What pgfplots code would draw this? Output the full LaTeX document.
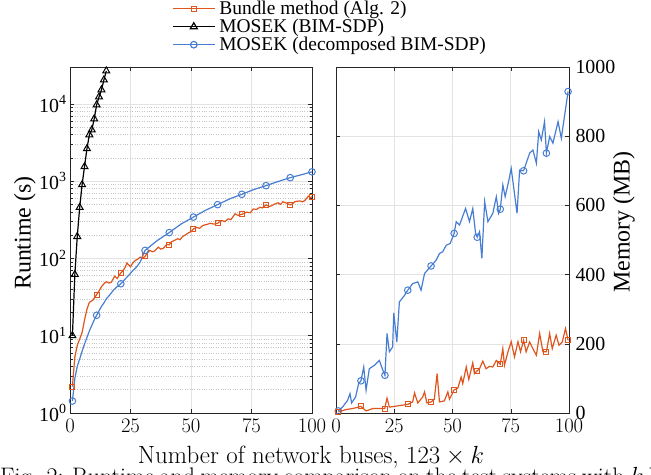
\documentclass[border=0pt]{standalone}
\usepackage{fontspec}
\usepackage{pgfplots}
\pgfplotsset{compat=1.18}
\newfontfamily\tnr{Liberation Serif}
\definecolor{orangeC}{RGB}{222,86,30}
\definecolor{blueC}{RGB}{72,126,210}
\definecolor{axC}{RGB}{38,38,38}
\pgfplotsset{
  common/.style={
    scale only axis, height=346bp,
    xmin=0, xmax=100, xtick={0,25,50,75,100},
    grid=major,
    major grid style={gray!22, line width=0.6bp},
    axis line style={axC, line width=0.6bp},
    tick style={axC, line width=0.5bp},
    major tick length=4bp, minor tick length=2.5bp,
    tick align=inside,
    xticklabel style={font=\fontsize{20}{22}\selectfont, text=black, yshift=-3bp},
    yticklabel style={font=\tnr\fontsize{20}{22}\selectfont, text=black,
      /pgf/number format/assume math mode=true, /pgf/number format/1000 sep={}},
  },
}
\pgfplotstableread{
x y
1 2.2
2 5.3
3 7.5
4.3 9.6
5 11
6 16
7 22
8 27
9.5 29
11 34
12 38
13 43
14 47
15 50
16 48
17 49
18.5 59
19.5 55
21 65
22 70
22.8 77
23.5 87
25 78
26 88
27 94
28 98
29 104
30 100
31 106
32 118
33 127
34 122
35 125
36.5 140
37.5 132
38.5 135
40 152
41 150
42 165
43 170
44.5 180
45.5 175
46.5 192
47.5 200
49 215
50 222
51 240
52.3 253
53.5 245
55 268
56.5 275
58 285
59.5 278
61 285
62.7 310
64 300
65.4 325
66.5 318
68.2 378
69.5 360
71 372
72 385
73 397
74.5 390
75.7 437
77 430
78.5 460
79.5 450
81 493
82.3 470
83.3 480
84.5 505
86 525
87 500
88 540
89.5 520
91 493
92 510
93 545
95 555
96 540
97 560
98.5 640
99.3 610
100 630
}\bundleRT
\pgfplotstableread{
x y
1 2.2
11 34
21 65
31 106
41 150
51 240
61 285
71 372
81 493
91 493
100 630
}\bundleRTm
\pgfplotstableread{
x y
1 1.43
2 2.8
3 4
4 5
5 6.3
6 7.8
7 9.5
8 11.5
9 13.6
10 16
11 18.4
12 21
13 24
14 26.5
15 30
16.5 34
18 39
19.3 42.7
21 47
23 55
24.8 63
26 70
27.5 77.5
29 90
31 127
36 170
41 216
46 280
51 343
56 420
61 497
66 590
71 676
76 780
81 875
86 990
91 1110
96 1220
100 1320
}\decRT
\pgfplotstableread{
x y
1 1.43
11 18.4
21 47
31 127
41 216
51 343
61 497
71 676
81 875
91 1110
100 1320
}\decRTm
\pgfplotstableread{
x y
1 10
2 62
3 192
4 457
5 900
6 1540
7 2630
8 3980
9 4600
10 6400
11 9700
12 12300
13 15200
14 20400
15 26700
}\bimRT
\pgfplotstableread{
x y
1 6
2.8 17
5 37
6 56
6.7 29
8.4 46
9.7 85
10.7 93
11.9 133
12.9 66
14.3 128
16.5 138
18.6 152
20.1 124
21 109
21.9 230
22.9 177
24.3 191
24.8 289
26.1 205
27.2 321
29.4 340
30.8 355
32.9 374
35.1 379
36.5 355
38 403
40.8 425
43 442
44.4 461
45.8 466
47.3 485
49 490
50.7 519
51.6 553
53 543
55.6 591
57.3 553
58.7 591
59.9 519
60.6 508
61.6 524
62.6 447
63.8 611
65.2 553
67.3 577
68.8 625
69.8 577
70.5 589
71.6 659
72.6 625
74.2 673
75.2 707
77.7 577
78.8 702
80.5 700
83.1 751
84.5 760
86 722
87 813
88.1 789
89.5 842
90.3 751
91.7 799
93.1 780
95.3 842
96.7 794
99.6 929
}\decMem
\pgfplotstableread{
x y
1 6
10.7 93
21 109
30.8 355
40.8 425
50.7 519
60.6 508
70.5 589
80.5 700
90.3 751
99.6 929
}\decMemm
\pgfplotstableread{
x y
1 3
4.3 10
7.2 13
10.7 19
12.9 6
15.8 13
20.9 13
21.9 43
22.9 17
30.8 25
32.9 32
33.7 58
35.1 29
37.2 46
38 61
39 29
40.8 32
42.2 40
43.4 114
44.4 32
46.5 35
48 61
48.7 40
50.7 67
52.3 72
53.7 104
54.4 85
55.9 133
57 97
58.7 145
59.4 114
60.6 122
61.6 128
63 150
64.4 128
65.9 135
67.3 133
68.8 152
70.5 141
71.6 186
72.3 138
73.8 177
75.2 206
76.6 162
78.1 206
79.2 177
80.5 210
81.6 177
83.1 205
84.5 186
86 167
87.4 230
88.8 177
90.3 177
91.7 230
92.8 186
94.5 225
95.7 196
97.1 205
98.5 244
99.6 210
}\bundleMem
\pgfplotstableread{
x y
1 3
10.7 19
20.9 13
30.8 25
40.8 32
50.7 67
60.6 122
70.5 141
80.5 210
90.3 177
99.6 210
}\bundleMemm
\begin{document}
\begin{tikzpicture}
\begin{axis}[common,
  at={(70bp,-413bp)}, anchor=south west, width=242bp,
  ymode=log, ymin=1, ymax=30000,
  ytick={1,10,100,1000,10000},
  yticklabels={10\textsuperscript{0},10\textsuperscript{1},10\textsuperscript{2},10\textsuperscript{3},10\textsuperscript{4}},
  yminorgrids=true,
  minor grid style={gray!45, dotted, line width=0.5bp},
  ylabel={Runtime (s)},
  ylabel style={font=\tnr\fontsize{24}{26}\selectfont, at={(axis description cs:-0.186,0.52)}, anchor=center},
  xlabel={Number of network buses, $123\times k$},
  xlabel style={font=\fontsize{25}{27}\selectfont, at={(axis description cs:0.996,-0.1445)}, anchor=base},
  legend style={at={(axis description cs:0.4215,1.1935)}, anchor=north west,
    draw=none, fill=none, inner sep=0pt, font=\tnr\fontsize{19.5}{21}\selectfont,
    nodes={inner sep=1bp}, row sep=1bp, column sep=3bp, cells={anchor=west}},
  legend image code/.code={\draw[mark repeat=2,mark phase=2] plot coordinates {(0bp,0bp) (21bp,0bp) (42bp,0bp)};},
]
\addlegendimage{orangeC, line width=1.2bp, mark=square, mark size=2.5bp}
\addlegendentry{Bundle method (Alg. 2)}
\addlegendimage{black, line width=1.2bp, mark=triangle, mark size=4bp}
\addlegendentry{MOSEK (BIM-SDP)}
\addlegendimage{blueC, line width=1.2bp, mark=o, mark size=3.3bp}
\addlegendentry{MOSEK (decomposed BIM-SDP)}
\addplot[forget plot, orangeC, line width=1.2bp] table {\bundleRT};
\addplot[forget plot, only marks, orangeC, line width=1bp, mark=square, mark size=2.5bp] table {\bundleRTm};
\addplot[forget plot, blueC, line width=1.2bp] table {\decRT};
\addplot[forget plot, only marks, blueC, line width=1bp, mark=o, mark size=3.3bp] table {\decRTm};
\addplot[forget plot, black, line width=1.2bp, mark=triangle, mark size=4bp, mark options={line width=1bp}] table {\bimRT};
\end{axis}
\begin{axis}[common,
  at={(336bp,-413bp)}, anchor=south west, width=233bp,
  ymin=0, ymax=1000, ytick={0,200,400,600,800,1000},
  yticklabel pos=right,
  yticklabel style={xshift=3bp},
  ylabel={Memory (MB)},
  ylabel style={font=\tnr\fontsize{24}{26}\selectfont, at={(axis description cs:1.236,0.552)}, anchor=center, rotate=0},
]
\addplot[blueC, line width=1.2bp] table {\decMem};
\addplot[only marks, blueC, line width=1bp, mark=o, mark size=3.3bp] table {\decMemm};
\addplot[orangeC, line width=1.2bp] table {\bundleMem};
\addplot[only marks, orangeC, line width=1bp, mark=square, mark size=2.5bp] table {\bundleMemm};
\end{axis}
\node[anchor=base west, inner sep=0pt, font=\fontsize{24}{26}\selectfont] at (0bp,-484bp)
  {\makebox[700bp][s]{Fig. 2: Runtime and memory comparison on the test systems with $k$ buses}};
\pgfresetboundingbox
\path[use as bounding box] (0bp,0bp) rectangle (651bp,-475bp);
\end{tikzpicture}
\end{document}
